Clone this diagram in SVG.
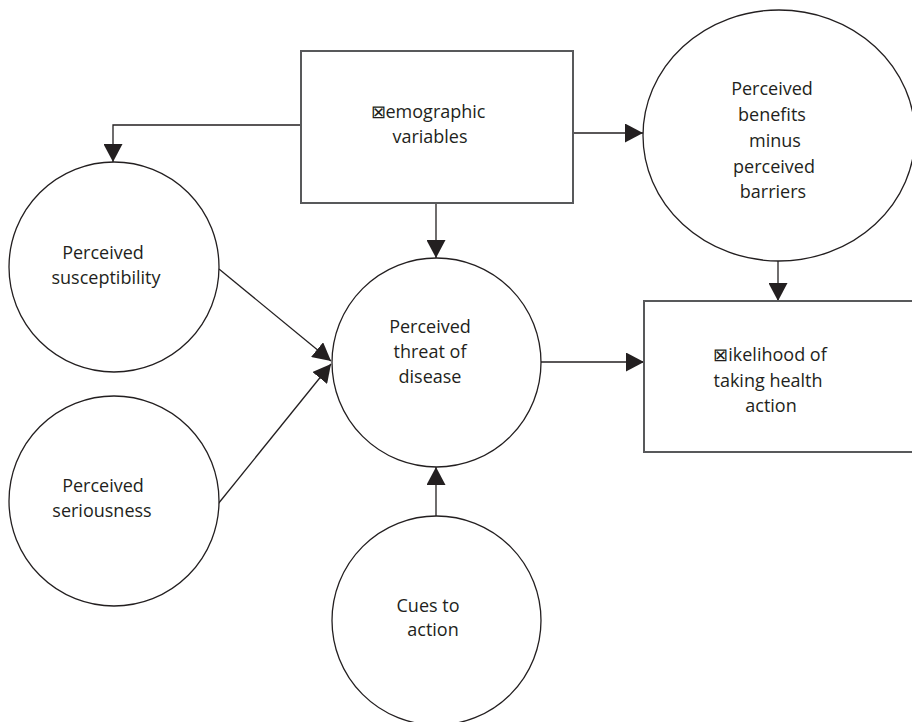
<svg xmlns="http://www.w3.org/2000/svg" width="912" height="722" viewBox="0 0 912 722">
  <style>
    .box { fill: #fff; stroke: #58595b; stroke-width: 2; }
    .node { fill: #fff; stroke: #231f20; stroke-width: 1.3; }
    .edge { fill: none; stroke: #231f20; stroke-width: 1.3; marker-end: url(#head); }
    text { font-family: "Open Sans", "Noto Sans", "Liberation Sans", sans-serif; font-size: 18px; fill: #231f20; text-anchor: middle; }
  </style>
  <defs>
    <marker id="head" viewBox="0 0 18 19" refX="18" refY="9.5" markerWidth="18" markerHeight="19" markerUnits="userSpaceOnUse" orient="auto">
      <path d="M0,0 L18,9.5 L0,19 z" fill="#231f20"/>
    </marker>
  </defs>
  <rect width="912" height="722" fill="#fff"/>

  <g id="connectors">
    <path class="edge" d="M301,125 H113 V162"/>
    <path class="edge" d="M436,203 V258"/>
    <path class="edge" d="M573,133 H643"/>
    <path class="edge" d="M778,261 V301"/>
    <path class="edge" d="M541,362 H644"/>
    <path class="edge" d="M219,269 L331,361"/>
    <path class="edge" d="M218,504 L331,364"/>
    <path class="edge" d="M436,516 V467"/>
  </g>

  <g id="demographic">
    <rect class="box" x="301" y="51" width="272" height="152"/>
    <text x="428" y="118">⊠emographic</text>
    <text x="430" y="143">variables</text>
  </g>

  <g id="benefits">
    <ellipse class="node" cx="779" cy="135.5" rx="136" ry="125.5"/>
    <text x="772" y="95">Perceived</text>
    <text x="772" y="121">benefits</text>
    <text x="775" y="147">minus</text>
    <text x="774" y="173">perceived</text>
    <text x="773" y="198">barriers</text>
  </g>

  <g id="susceptibility">
    <circle class="node" cx="114" cy="267" r="105"/>
    <text x="103" y="259">Perceived</text>
    <text x="106" y="284">susceptibility</text>
  </g>

  <g id="seriousness">
    <circle class="node" cx="114" cy="501" r="105"/>
    <text x="103" y="492">Perceived</text>
    <text x="102" y="517">seriousness</text>
  </g>

  <g id="threat">
    <circle class="node" cx="436.5" cy="362.5" r="104.5"/>
    <text x="430" y="333">Perceived</text>
    <text x="430" y="358">threat of</text>
    <text x="430" y="383">disease</text>
  </g>

  <g id="cues">
    <circle class="node" cx="436.5" cy="620.5" r="104.5"/>
    <text x="428" y="612">Cues to</text>
    <text x="433" y="636">action</text>
  </g>

  <g id="likelihood">
    <rect class="box" x="644" y="301" width="280" height="151"/>
    <text x="770" y="361">⊠ikelihood of</text>
    <text x="768" y="387">taking health</text>
    <text x="771" y="412">action</text>
  </g>
</svg>
